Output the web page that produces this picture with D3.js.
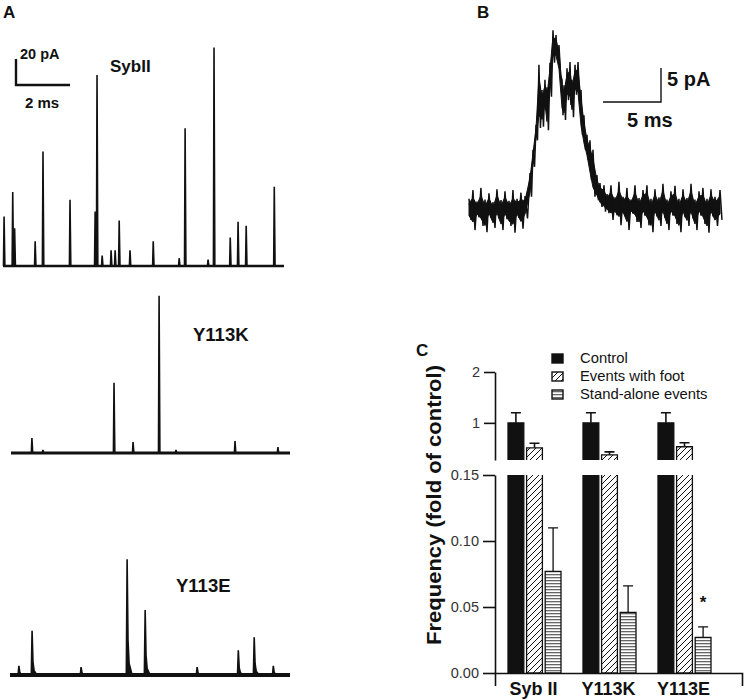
<!DOCTYPE html>
<html><head><meta charset="utf-8">
<script src="https://cdn.jsdelivr.net/npm/d3@7"></script>
<style>body{margin:0;background:#fff}svg{display:block;font-family:"Liberation Sans",Arial,sans-serif}</style>
</head><body><svg id="c" width="744" height="700"></svg>
<script>
// ---------- Panel A data (time in ms, amplitude in pA) ----------
const sybTimes = [0.04,0.36,0.43,1.19,1.48,2.48,3.41,3.48,3.67,4.0,4.15,4.30,4.70,5.56,6.52,6.74,7.59,7.81,8.41,8.70,9.0,10.04];
const sybAmps  = [38,57,29,19,88,51,42,147,8,12,12,35,12,19,6,106,5,168,22,34,31,61];
const kTimes = [0.78,1.19,3.84,4.55,5.52,6.15,8.35,9.95];
const kAmps  = [11.5,2.3,54,8.5,121,2.3,9.2,4.6];
const eTimes = [0.33,0.82,2.64,4.35,5.02,6.95,8.48,9.07,9.78];
const eAmps  = [7,34,6,89,50,6,19,29,7];
const traceNames = ["SybII","Y113K","Y113E"];

// ---------- Panel B data (time ms, current pA: high / low excursions) ----------
const bTime  = [0,0.34,0.69,1.03,1.38,1.72,2.07,2.41,2.76,3.10,3.45,3.79,4.14,4.48,4.83,5.26,5.52,5.78,6.03,6.29,6.55,6.72,6.98,7.24,7.50,7.76,8.02,8.19,8.45,8.71,8.88,9.14,9.40,9.66,9.91,10.17,10.43,10.69,11.03,11.29,11.64,11.90,12.24,12.59,12.93,13.28,13.62,13.97,14.31,14.66,15.0,15.34,15.69,16.03,16.38,16.72,17.07,17.41,17.76,18.10,18.45,18.79,19.14,19.48,19.83,20.17,20.52,20.86,21.21,21.64];
const bUpper = [1.5,2.8,1.1,3.1,1.4,2.3,1.0,2.9,1.3,2.6,1.2,2.8,1.5,2.4,1.9,5.3,8.7,12.4,21.2,17.5,19.0,17.9,21.5,26.3,25.6,24.1,19.0,18.2,20.7,21.6,19.0,21.2,21.6,17.5,13.8,10.9,10.1,8.7,5.0,3.8,3.5,2.2,3.5,1.7,4.0,1.8,3.1,1.4,3.5,1.6,2.8,3.5,1.5,2.9,1.7,3.7,1.4,2.6,3.4,1.5,2.9,1.6,3.7,1.4,2.6,3.1,1.5,2.9,1.8,2.8];
const bLower = [-1.6,-3.1,-1.2,-2.5,-3.4,-1.3,-2.8,-1.4,-3.1,-1.5,-2.5,-3.5,-1.3,-2.9,-1.4,1.8,6.2,10.1,11.9,12.1,14.6,11.6,16.5,21.5,21.9,19.7,13.8,13.1,16.0,15.3,13.5,16.8,16.0,10.9,8.7,7.2,4.3,1.8,1.3,0.3,-0.4,-0.6,-1.6,-0.9,-2.4,-1.0,-3.1,-0.7,-1.9,-2.8,-1.0,-2.4,-3.4,-1.1,-2.5,-1.3,-3.1,-1.0,-2.2,-3.4,-1.2,-2.5,-1.4,-3.1,-1.0,-2.2,-3.5,-1.1,-2.5,-1.6];

// ---------- Panel C data ----------
const groups = ["Syb II","Y113K","Y113E"];
const seriesNames = ["Control","Events with foot","Stand-alone events"];
const controlMean = [1,1,1];
const controlErr  = [0.2,0.2,0.2];
const footMean = [0.51,0.37,0.53];
const footErr  = [0.09,0.06,0.08];
const standMean = [0.077,0.046,0.027];
const standErr  = [0.033,0.020,0.008];
const upperTicks = [1,2];
const lowerTicks = [0,0.05,0.10,0.15];

const svg = d3.select("#c");
const ink = "#111";
const bold = "700";

[["A",3,18],["B",477,18],["C",416,356]].forEach(([t,x,y])=>{
  svg.append("text").attr("x",x).attr("y",y).attr("font-size",17).attr("font-weight",bold).attr("fill",ink).text(t);
});

// ---------- Panel A ----------
const traces = [
  {name:traceNames[0], t:sybTimes, a:sybAmps, x0:3, x1:284, base:266, bw:2.3, tail:false, lx:110, ly:72, fs:17},
  {name:traceNames[1], t:kTimes, a:kAmps, x0:11, x1:290, base:453, bw:3, tail:false, lx:193, ly:341, fs:18.5},
  {name:traceNames[2], t:eTimes, a:eAmps, x0:10, x1:290, base:675, bw:4, tail:true, lx:176, ly:592, fs:18.5}
];
let xA0, yA0;
traces.forEach((tr,i)=>{
  const x = d3.scaleLinear().domain([0,10.4]).range([tr.x0,tr.x1]);
  const y = d3.scaleLinear().domain([0,20]).range([tr.base,tr.base-26]);
  if(i===0){xA0=x;yA0=y;}
  const g = svg.append("g");
  g.append("line").attr("x1",x(0)).attr("x2",x(10.4)).attr("y1",y(0)).attr("y2",y(0))
    .attr("stroke",ink).attr("stroke-width",tr.bw);
  const line = d3.line();
  tr.t.forEach((t,j)=>{
    const xs = x(t), a = tr.a[j];
    let pts;
    if(tr.tail){
      pts = [[xs-0.8,y(0)],[xs,y(a)],[xs+0.9,y(a*0.3)],[xs+2,y(a*0.1)],[xs+5,y(0)]];
    } else {
      pts = [[xs-0.6,y(0)],[xs,y(a)],[xs+0.8,y(0)]];
    }
    g.append("path").attr("d",line(pts)).attr("fill",ink).attr("stroke",ink)
      .attr("stroke-width",1.6).attr("stroke-linejoin","miter");
  });
  g.append("text").attr("x",tr.lx).attr("y",tr.ly).attr("font-size",tr.fs).attr("font-weight",bold)
    .attr("fill",ink).text(tr.name);
});
{
  const sx = 16, sy = 85;
  const h = yA0(0)-yA0(20), w = xA0(2)-xA0(0);
  svg.append("path").attr("d",`M${sx},${sy-h}V${sy}H${sx+w}`).attr("fill","none")
    .attr("stroke",ink).attr("stroke-width",2.4);
  svg.append("text").attr("x",20).attr("y",59).attr("font-size",14.5).attr("font-weight",bold).attr("fill",ink).text("20 pA");
  svg.append("text").attr("x",sx+w/2-1).attr("y",108).attr("text-anchor","middle").attr("font-size",15).attr("font-weight",bold).attr("fill",ink).text("2 ms");
}

// ---------- Panel B ----------
{
  const x = d3.scaleLinear().domain([0,21.64]).range([469,720]);
  const y = d3.scaleLinear().domain([0,5]).range([209,175]);
  const pts = [];
  bTime.forEach((t,i)=>{
    const tn = i<bTime.length-1 ? bTime[i+1] : t+0.34;
    pts.push([x(t), y(bUpper[i])]);
    pts.push([x((t+tn)/2), y(bLower[i])]);
  });
  const core = d3.area().x((d,i)=>x(bTime[i]))
    .y0((d,i)=>y((bUpper[i]+bLower[i])/2 - (bUpper[i]-bLower[i])*0.3))
    .y1((d,i)=>y((bUpper[i]+bLower[i])/2 + (bUpper[i]-bLower[i])*0.3));
  svg.append("path").attr("d",core(bTime)).attr("fill",ink).attr("stroke",ink).attr("stroke-width",1);
  svg.append("path").attr("d",d3.line()(pts)).attr("fill","none").attr("stroke",ink).attr("stroke-width",1.5).attr("stroke-linejoin","miter");
  const sx = 661, sy = 102;
  const h = y(0)-y(5), w = x(5)-x(0);
  svg.append("path").attr("d",`M${sx},${sy-h}V${sy}H${sx-w}`).attr("fill","none").attr("stroke",ink).attr("stroke-width",1.4);
  svg.append("text").attr("x",667).attr("y",86).attr("font-size",20).attr("font-weight",bold).attr("fill",ink).text("5 pA");
  svg.append("text").attr("x",627).attr("y",127).attr("font-size",20).attr("font-weight",bold).attr("fill",ink).text("5 ms");
}

// ---------- Panel C ----------
const defs = svg.append("defs");
const pd = defs.append("pattern").attr("id","diag").attr("patternUnits","userSpaceOnUse").attr("width",6).attr("height",6);
pd.append("rect").attr("width",6).attr("height",6).attr("fill","#fff");
pd.append("path").attr("d","M-1,7L7,-1M-1,1L1,-1M5,7L7,5").attr("stroke",ink).attr("stroke-width",1);
const ph = defs.append("pattern").attr("id","horiz").attr("patternUnits","userSpaceOnUse").attr("width",4).attr("height",3);
ph.append("rect").attr("width",4).attr("height",3).attr("fill","#fff");
ph.append("rect").attr("y",1).attr("width",4).attr("height",1.3).attr("fill","#666");
const fills = {"Control":ink,"Events with foot":"url(#diag)","Stand-alone events":"url(#horiz)"};

const axX = 495;
const breakVal = 0.27;
const yTop = d3.scaleLinear().domain([breakVal,2]).range([460,372]);
const yBot = d3.scaleLinear().domain([0,0.15]).range([673,475]);
const xBand = d3.scaleBand().domain(groups).range([496,721]);
const xIn = d3.scaleBand().domain(seriesNames).range([12,65]).paddingInner(0.15);

const gAxTop = svg.append("g").attr("transform",`translate(${axX},0)`)
  .call(d3.axisLeft(yTop).tickValues(upperTicks).tickSize(11).tickSizeOuter(0).tickPadding(4).tickFormat(d3.format("d")));
const gAxBot = svg.append("g").attr("transform",`translate(${axX},0)`)
  .call(d3.axisLeft(yBot).tickValues(lowerTicks).tickSize(12).tickSizeOuter(0).tickPadding(4).tickFormat(d3.format(".2f")));
const xLin = d3.scaleLinear().domain([0,1]).range([axX,742]);
const gAxX = svg.append("g").attr("transform",`translate(0,673)`)
  .call(d3.axisBottom(xLin).tickValues([]).tickSizeOuter(13));
[gAxTop,gAxBot,gAxX].forEach(g=>{
  g.selectAll("path,line").attr("stroke",ink).attr("stroke-width",1.6);
  g.selectAll("text").attr("font-size",14.5).attr("fill","#333").attr("font-family","'Liberation Sans',Arial,sans-serif");
});
groups.forEach(gn=>{
  svg.append("text").attr("x",xBand(gn)+xBand.bandwidth()/2).attr("y",695).attr("text-anchor","middle")
    .attr("font-size",18).attr("font-weight",bold).attr("fill",ink).text(gn);
});
svg.append("text").attr("transform","translate(441,505) rotate(-90)").attr("text-anchor","middle")
  .attr("font-size",19.5).attr("font-weight",bold).attr("fill",ink).attr("textLength",280).attr("lengthAdjust","spacingAndGlyphs")
  .text("Frequency (fold of control)");

const seriesData = [
  {name:seriesNames[0], mean:controlMean, err:controlErr},
  {name:seriesNames[1], mean:footMean, err:footErr},
  {name:seriesNames[2], mean:standMean, err:standErr}
];
const bars = svg.append("g");
seriesData.forEach(s=>{
  groups.forEach((gn,i)=>{
    const x0 = xBand(gn)+xIn(s.name), w = xIn.bandwidth();
    const v = s.mean[i], e = s.err[i];
    const f = fills[s.name];
    const topB = yBot(Math.min(v,0.15)), botB = yBot(0);
    bars.append("rect").attr("x",x0).attr("y",topB).attr("width",w).attr("height",botB-topB).attr("fill",f);
    const outlineB = v>0.15 ? `M${x0},${topB}V${botB}H${x0+w}V${topB}` : `M${x0},${botB}V${topB}H${x0+w}V${botB}Z`;
    bars.append("path").attr("d",outlineB).attr("fill","none").attr("stroke",ink).attr("stroke-width",1.3);
    if(v<=0.15){
      const ye = yBot(v+e);
      bars.append("path").attr("d",`M${x0+w/2},${topB}V${ye}M${x0+w/2-5},${ye}H${x0+w/2+5}`).attr("stroke",ink).attr("stroke-width",1.3).attr("fill","none");
    }
    if(v>breakVal){
      const topU = yTop(v), botU = yTop(breakVal);
      bars.append("rect").attr("x",x0).attr("y",topU).attr("width",w).attr("height",botU-topU).attr("fill",f);
      bars.append("path").attr("d",`M${x0},${botU}V${topU}H${x0+w}V${botU}`).attr("fill","none").attr("stroke",ink).attr("stroke-width",1.3);
      const ye = yTop(v+e);
      bars.append("path").attr("d",`M${x0+w/2},${topU}V${ye}M${x0+w/2-5},${ye}H${x0+w/2+5}`).attr("stroke",ink).attr("stroke-width",1.6).attr("fill","none");
    }
  });
});
svg.append("text").attr("x",xBand("Y113E")+xIn("Stand-alone events")+xIn.bandwidth()/2).attr("y",608)
  .attr("text-anchor","middle").attr("font-size",17).attr("font-weight",bold).attr("fill",ink).text("*");

seriesNames.forEach((n,i)=>{
  const ly = 363 + i*18;
  svg.append("rect").attr("x",552).attr("y",ly-9).attr("width",11).attr("height",9)
    .attr("fill",fills[n]).attr("stroke",ink).attr("stroke-width",1.4);
  svg.append("text").attr("x",580).attr("y",ly).attr("font-size",14.8).attr("fill",ink).text(n);
});
</script></body></html>
